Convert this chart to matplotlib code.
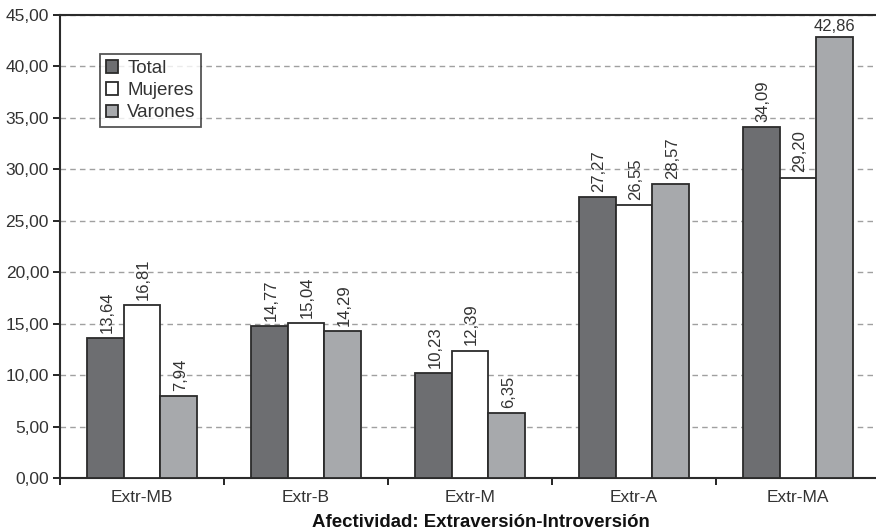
import numpy as np
import matplotlib.pyplot as plt

plt.rcParams['font.family'] = ['Liberation Sans', 'DejaVu Sans']

categorias = ["Extr-MB", "Extr-B", "Extr-M", "Extr-A", "Extr-MA"]
total = [13.64, 14.77, 10.23, 27.27, 34.09]
mujeres = [16.81, 15.04, 12.39, 26.55, 29.20]
varones = [7.94, 14.29, 6.35, 28.57, 42.86]
series = [("Total", total, "#6d6e71"),
          ("Mujeres", mujeres, "#ffffff"),
          ("Varones", varones, "#a7a9ac")]

fig = plt.figure(figsize=(8.76, 5.32), dpi=100)
ax = fig.add_axes([60/876, 54/532, 820/876, 463/532])

x = np.arange(len(categorias))
w = 0.224
for i, (nombre, vals, col) in enumerate(series):
    pos = x + (i - 1) * w
    ax.bar(pos, vals, width=w, color=col, edgecolor="#2b2b2b",
           linewidth=1.3, label=nombre, zorder=3)
    for px, v in zip(pos, vals):
        txt = f"{v:.2f}".replace(".", ",")
        if v > 40:
            ax.text(px, v + 0.3, txt, ha="center", va="bottom",
                    fontsize=12, color="#333333")
        else:
            ax.text(px + 0.01, v + 0.5, txt, ha="center", va="bottom",
                    rotation=90, fontsize=12, color="#333333")

ax.set_xlim(-0.5, len(categorias) - 0.5)
ax.set_ylim(0, 45)
ax.set_yticks(np.arange(0, 46, 5))
ax.set_yticklabels([f"{t:.2f}".replace(".", ",") for t in np.arange(0, 46, 5)],
                   fontsize=12.5, color="#333333")
ax.set_xticks(x)
ax.set_xticklabels(categorias, fontsize=12.5, color="#333333")
ax.tick_params(axis="x", length=0, pad=9)
ax.set_xticks(np.arange(-0.5, len(categorias), 1), minor=True)
ax.tick_params(axis="x", which="minor", length=5, direction="out", width=1.2)
ax.tick_params(axis="y", length=5, direction="out", width=1.2, pad=3)

ax.yaxis.grid(True, linestyle=(0, (4, 3)), color="#a0a0a0", linewidth=1, zorder=0)
ax.set_axisbelow(True)
for s in ["left", "bottom", "top"]:
    ax.spines[s].set_linewidth(1.5)
    ax.spines[s].set_color("#2b2b2b")
ax.spines["right"].set_visible(False)

ax.set_xlabel("Afectividad: Extraversión-Introversión", fontsize=13.4,
              fontweight="bold", color="#111111")
ax.xaxis.set_label_coords(0.513, -0.077)

leg = ax.legend(loc="upper left", bbox_to_anchor=(0.049, 0.915), fontsize=13.5,
                frameon=True, fancybox=False, edgecolor="#2b2b2b",
                handlelength=0.65, handleheight=0.65, handletextpad=0.5,
                borderpad=0.3, labelspacing=0.28, borderaxespad=0)
leg.get_frame().set_linewidth(1.3)
for t in leg.get_texts():
    t.set_color("#333333")

fig.savefig("out.png", dpi=100)
